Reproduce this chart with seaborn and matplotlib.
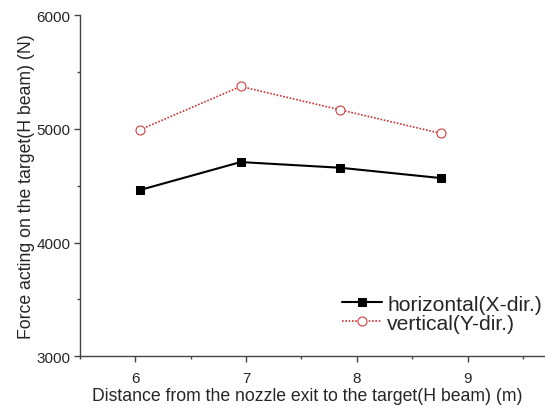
import matplotlib
matplotlib.use("Agg")
import matplotlib.pyplot as plt
import seaborn as sns
import pandas as pd
from matplotlib.ticker import MultipleLocator

distance = [6.04, 6.95, 7.85, 8.76]
horizontal = [4462, 4708, 4658, 4567]
vertical = [4992, 5373, 5167, 4960]
xticks = [6, 7, 8, 9]
yticks = [3000, 4000, 5000, 6000]

sns.set_style("ticks")
plt.rcParams['font.family'] = ['Liberation Sans', 'DejaVu Sans']

df = pd.DataFrame({"d": distance, "h": horizontal, "v": vertical})

fig = plt.figure(figsize=(5.45, 4.14), dpi=100)
ax = fig.add_axes([0.147, 0.137, 0.853, 0.824])

sns.lineplot(data=df, x="d", y="h", ax=ax, color="black", lw=1.5,
             marker="s", markersize=5.5, markeredgecolor="black",
             label="horizontal(X-dir.)")
sns.lineplot(data=df, x="d", y="v", ax=ax, color="#cc3333", lw=1.2,
             linestyle=(0, (1, 1)), marker="o", markersize=6.5,
             markerfacecolor="white", markeredgecolor="#cc3333",
             label="vertical(Y-dir.)")

ax.set_xlim(5.5, 9.7)
ax.set_ylim(3000, 6000)
ax.set_xticks(xticks)
ax.set_yticks(yticks)
ax.xaxis.set_minor_locator(MultipleLocator(0.5))
ax.yaxis.set_minor_locator(MultipleLocator(500))
for s in ["top", "right"]:
    ax.spines[s].set_visible(False)
for s in ["left", "bottom"]:
    ax.spines[s].set_color("#444444")
    ax.spines[s].set_linewidth(1.0)
ax.tick_params(which="major", length=4, width=1, color="#444444", labelsize=11)
ax.tick_params(which="minor", length=2.5, width=1, color="#444444")
ax.tick_params(axis="y", which="major", pad=3)
ax.tick_params(axis="x", which="major", pad=6.5)
ax.set_xlabel("Distance from the nozzle exit to the target(H beam) (m)", fontsize=12.7, labelpad=1.5)
ax.set_ylabel("Force acting on the target(H beam) (N)", fontsize=12.7, labelpad=1)
ax.xaxis.label.set_x(0.488)

leg = ax.legend(loc="upper left", bbox_to_anchor=(0.627, 0.286),
                bbox_transform=fig.transFigure, frameon=False,
                fontsize=15.2, handlelength=1.9, handletextpad=0.25, labelspacing=0.0,
                borderaxespad=0, borderpad=0)

fig.savefig("out.png", dpi=100)
